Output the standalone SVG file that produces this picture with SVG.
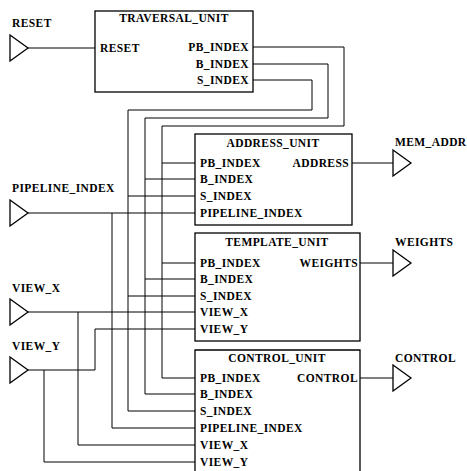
<svg xmlns="http://www.w3.org/2000/svg" width="467" height="471" viewBox="0 0 467 471">
<style>
text{font-family:"Liberation Serif","Times New Roman",serif;font-weight:bold;font-size:11.5px;letter-spacing:0.4px;fill:#000}
.r{text-anchor:end}
.m{text-anchor:middle}
.box{fill:none;stroke:#000;stroke-width:1.3}
.port{fill:#fff;stroke:#000;stroke-width:1.3}
.w{fill:none;stroke:#000;stroke-width:1}
</style>
<rect width="467" height="471" fill="#fff"/>
<g id="connectors">
<path class="w" d="M28,48 H95"/>
<path class="w" d="M253,47 H344 V126 H162 V378 H195 M162,163 H195 M162,263 H195"/>
<path class="w" d="M253,64 H328 V118 H145 V394 H195 M145,179 H195 M145,279 H195"/>
<path class="w" d="M253,80 H312 V110 H128 V411 H195 M128,196 H195 M128,296 H195"/>
<path class="w" d="M28,213 H195 M112,213 V428 H195"/>
<path class="w" d="M28,312 H195 M78,312 V445 H195"/>
<path class="w" d="M28,370 H95 V329 H195 M44,370 V462 H195"/>
<path class="w" d="M352,163 H393"/>
<path class="w" d="M360,263 H393"/>
<path class="w" d="M360,378 H393"/>
</g>
<g id="in_reset">
<text x="12" y="27">RESET</text>
<path class="port" d="M10,35 L28,48 L10,61 Z"/>
</g>
<g id="in_pipeline_index">
<text x="12" y="192">PIPELINE_INDEX</text>
<path class="port" d="M10,200 L28,213 L10,226 Z"/>
</g>
<g id="in_view_x">
<text x="12" y="292">VIEW_X</text>
<path class="port" d="M10,299 L28,312 L10,325 Z"/>
</g>
<g id="in_view_y">
<text x="12" y="350">VIEW_Y</text>
<path class="port" d="M10,357 L28,370 L10,383 Z"/>
</g>
<g id="out_mem_addr">
<text x="395" y="146">MEM_ADDR</text>
<path class="port" d="M393,150 L411,163 L393,176 Z"/>
</g>
<g id="out_weights">
<text x="395" y="246">WEIGHTS</text>
<path class="port" d="M393,250 L411,263 L393,276 Z"/>
</g>
<g id="out_control">
<text x="395" y="362">CONTROL</text>
<path class="port" d="M393,365 L411,378 L393,391 Z"/>
</g>
<g id="traversal_unit">
<rect class="box" x="95" y="11" width="158" height="81"/>
<text class="m" x="174" y="22">TRAVERSAL_UNIT</text>
<text x="100" y="52">RESET</text>
<text class="r" x="249" y="51">PB_INDEX</text>
<text class="r" x="249" y="68">B_INDEX</text>
<text class="r" x="249" y="84">S_INDEX</text>
</g>
<g id="address_unit">
<rect class="box" x="195" y="134" width="157" height="91"/>
<text class="m" x="273" y="147">ADDRESS_UNIT</text>
<text x="200" y="167">PB_INDEX</text>
<text x="200" y="183">B_INDEX</text>
<text x="200" y="200">S_INDEX</text>
<text x="200" y="217">PIPELINE_INDEX</text>
<text class="r" x="349" y="167">ADDRESS</text>
</g>
<g id="template_unit">
<rect class="box" x="195" y="233" width="165" height="108"/>
<text class="m" x="277" y="246">TEMPLATE_UNIT</text>
<text x="200" y="267">PB_INDEX</text>
<text x="200" y="283">B_INDEX</text>
<text x="200" y="300">S_INDEX</text>
<text x="200" y="316">VIEW_X</text>
<text x="200" y="333">VIEW_Y</text>
<text class="r" x="358" y="267">WEIGHTS</text>
</g>
<g id="control_unit">
<path class="box" d="M195,475 V350 H360 V475"/>
<text class="m" x="277" y="362">CONTROL_UNIT</text>
<text x="200" y="382">PB_INDEX</text>
<text x="200" y="398">B_INDEX</text>
<text x="200" y="415">S_INDEX</text>
<text x="200" y="432">PIPELINE_INDEX</text>
<text x="200" y="449">VIEW_X</text>
<text x="200" y="466">VIEW_Y</text>
<text class="r" x="358" y="382">CONTROL</text>
</g>
</svg>
